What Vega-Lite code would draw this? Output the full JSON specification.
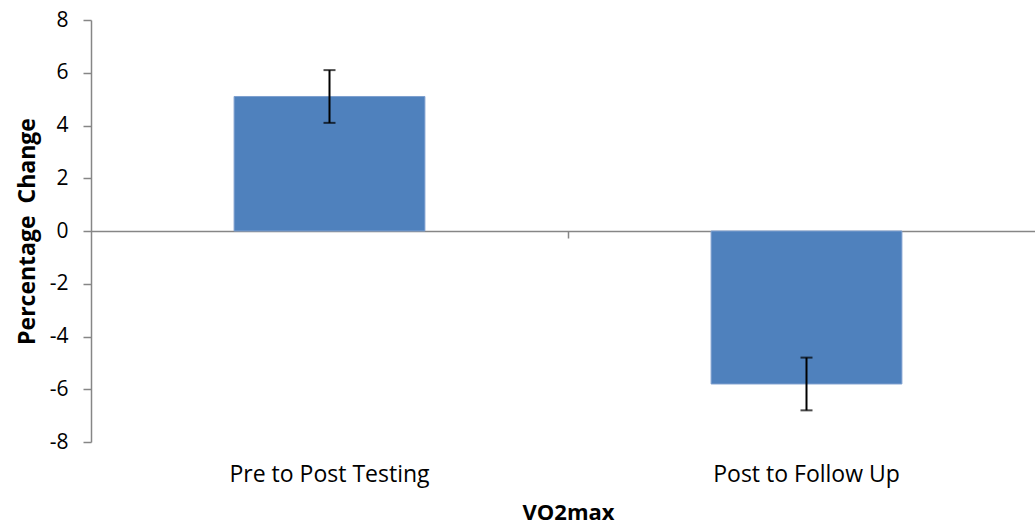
{
  "$schema": "https://vega.github.io/schema/vega-lite/v6.json",
  "width": 944,
  "height": 422,
  "autosize": {"type": "none"},
  "padding": {"left": 91, "top": 20, "right": 0, "bottom": 88},
  "config": {"view": {"stroke": null}, "font": "Open Sans", "axis": {"grid": false}},
  "data": {"values": [
    {"period": "Pre to Post Testing", "change": 5.1, "lo": 4.1, "hi": 6.1},
    {"period": "Post to Follow Up", "change": -5.8, "lo": -6.8, "hi": -4.8}
  ]},
  "layer": [
    {
      "mark": {"type": "bar", "color": "#4F81BD", "stroke": "#7E9FCF", "strokeWidth": 1},
      "encoding": {
        "x": {"field": "period", "type": "nominal", "sort": null,
          "scale": {"range": [0, 954], "paddingInner": 0.6, "paddingOuter": 0.3},
          "axis": {"title": "VO2max", "labelAngle": 0, "domain": false, "ticks": false, "labelLimit": 0,
            "labelPadding": 21, "labelFontSize": 23, "labelColor": "#000",
            "titleFontSize": 22, "titleFontWeight": "bold", "titleColor": "#000", "titlePadding": 16}},
        "y": {"field": "change", "type": "quantitative", "scale": {"domain": [-8, 8], "nice": false},
          "axis": {"values": [-8, -6, -4, -2, 0, 2, 4, 6, 8], "title": "Percentage\u00a0\u00a0Change",
            "labelExpr": "replace(datum.label, '\u2212', '-')",
            "domainColor": "#868686", "domainWidth": 1.5, "tickColor": "#868686", "tickWidth": 1.5, "tickSize": 8,
            "labelPadding": 15, "labelFontSize": 21, "labelColor": "#000",
            "titleFontSize": 23, "titleFontWeight": "bold", "titleColor": "#000", "titlePadding": 10}}
      }
    },
    {
      "mark": {"type": "rule", "color": "#000", "strokeWidth": 2},
      "encoding": {
        "x": {"field": "period", "type": "nominal", "sort": null,
          "axis": {"title": null, "labels": false, "offset": -211, "tickOffset": 238.5,
            "domainColor": "#868686", "domainWidth": 1.5, "tickColor": "#868686", "tickWidth": 1.5, "tickSize": -7}},
        "y": {"field": "lo", "type": "quantitative"},
        "y2": {"field": "hi"}
      }
    },
    {
      "mark": {"type": "tick", "color": "#000", "size": 12, "thickness": 2},
      "encoding": {
        "x": {"field": "period", "type": "nominal", "sort": null, "axis": null},
        "y": {"field": "lo", "type": "quantitative"}
      }
    },
    {
      "mark": {"type": "tick", "color": "#000", "size": 12, "thickness": 2},
      "encoding": {
        "x": {"field": "period", "type": "nominal", "sort": null, "axis": null},
        "y": {"field": "hi", "type": "quantitative"}
      }
    }
  ],
  "resolve": {"axis": {"x": "independent"}}
}
